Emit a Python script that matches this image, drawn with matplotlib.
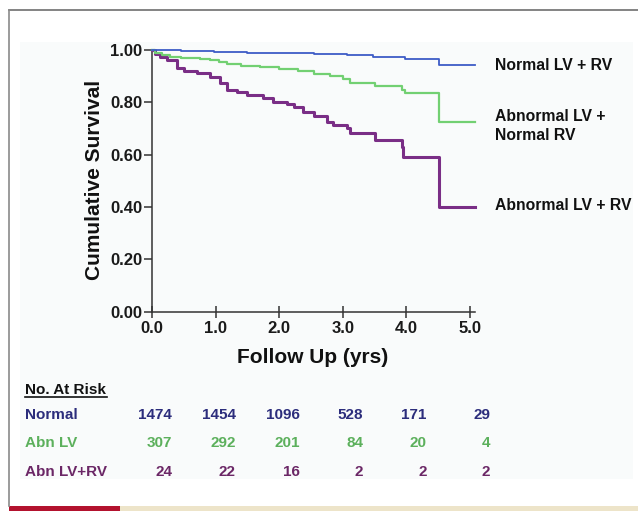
import matplotlib
matplotlib.use("Agg")
import matplotlib.pyplot as plt
import matplotlib.transforms as mtransforms
from matplotlib.patches import Rectangle
from matplotlib.lines import Line2D

# ---- data ----
normal_t = [0.0, 0.45, 0.97, 1.49, 2.0, 2.54, 3.06, 3.48, 3.9, 3.98, 4.52, 5.08]
normal_s = [1.0, 0.997, 0.994, 0.990, 0.987, 0.985, 0.980, 0.975, 0.972, 0.966, 0.943, 0.943]

abnlv_t = [0.0, 0.05, 0.15, 0.29, 0.45, 0.75, 0.92, 1.05, 1.18, 1.4, 1.7, 2.0, 2.3, 2.54,
           2.8, 3.0, 3.11, 3.5, 3.93, 3.98, 4.52, 5.08]
abnlv_s = [1.0, 0.99, 0.98, 0.975, 0.970, 0.966, 0.962, 0.955, 0.946, 0.940, 0.934, 0.926,
           0.920, 0.910, 0.900, 0.890, 0.875, 0.862, 0.847, 0.834, 0.726, 0.726]

abnlvrv_t = [0.0, 0.05, 0.13, 0.24, 0.39, 0.5, 0.71, 0.92, 1.07, 1.18, 1.34, 1.49, 1.75,
             1.91, 2.12, 2.23, 2.38, 2.54, 2.75, 2.85, 3.06, 3.11, 3.5, 3.93, 3.95, 4.52, 5.08]
abnlvrv_s = [1.0, 0.985, 0.975, 0.96, 0.93, 0.921, 0.913, 0.898, 0.873, 0.847, 0.841, 0.828,
             0.815, 0.803, 0.794, 0.783, 0.764, 0.748, 0.726, 0.713, 0.701, 0.682, 0.656,
             0.631, 0.592, 0.401, 0.401]

x_ticks = [0, 1, 2, 3, 4, 5]
y_ticks = [0.0, 0.2, 0.4, 0.6, 0.8, 1.0]

risk_groups = ["Normal", "Abn LV", "Abn LV+RV"]
risk_normal = [1474, 1454, 1096, 528, 171, 29]
risk_abnlv = [307, 292, 201, 84, 20, 4]
risk_abnlvrv = [24, 22, 16, 2, 2, 2]

curve_labels = ["Normal LV + RV", "Abnormal LV +\nNormal RV", "Abnormal LV + RV"]

# ---- style ----
W, H = 638, 511
fig = plt.figure(figsize=(W / 100, H / 100), dpi=100)
fig.patch.set_facecolor("white")
FONT = ["Liberation Sans", "DejaVu Sans"]
plt.rcParams["font.family"] = FONT
plt.rcParams["font.weight"] = "bold"

def fx(px):
    return px / W

def fy(py):
    return 1 - py / H

# panel and frame
fig.add_artist(Rectangle((fx(20), fy(479)), fx(633) - fx(20), fy(42) - fy(479),
                         transform=fig.transFigure, facecolor="#f9fbfb", edgecolor="none", zorder=0))
fig.add_artist(Line2D([fx(9), fx(638)], [fy(10), fy(10)], transform=fig.transFigure,
                      color="#6e6e6e", lw=1.2))
fig.add_artist(Line2D([fx(9), fx(9)], [fy(10), fy(506)], transform=fig.transFigure,
                      color="#8a8a8a", lw=1.2))
fig.add_artist(Rectangle((fx(9), 0), fx(120) - fx(9), fy(506), transform=fig.transFigure,
                         facecolor="#b3122e", edgecolor="none"))
fig.add_artist(Rectangle((fx(120), 0), 1 - fx(120), fy(506), transform=fig.transFigure,
                         facecolor="#ede4c9", edgecolor="none"))

ax = fig.add_axes([fx(152), fy(311.7), fx(475) - fx(152), fy(50) - fy(311.7)])
ax.set_facecolor("none")
ax.set_xlim(0, 5.08)
ax.set_ylim(0, 1.0)
for s in ["top", "right"]:
    ax.spines[s].set_visible(False)
for s in ["left", "bottom"]:
    ax.spines[s].set_color("#333333")
    ax.spines[s].set_linewidth(1.1)

blue, green, purple = "#3d5cc6", "#72d072", "#7a2e86"
ax.plot(normal_t, normal_s, drawstyle="steps-post", color=blue, lw=1.3, clip_on=False, zorder=5)
ax.plot(abnlv_t, abnlv_s, drawstyle="steps-post", color=green, lw=1.6, clip_on=False, zorder=4)
ax.plot(abnlvrv_t, abnlvrv_s, drawstyle="steps-post", color=purple, lw=2.2, clip_on=False, zorder=3)

ax.set_xticks(x_ticks)
ax.set_xticklabels([f"{v:.1f}" for v in x_ticks])
ax.set_yticks(y_ticks)
ax.set_yticklabels([f"{v:.2f}" for v in y_ticks])
ax.tick_params(axis="x", direction="inout", length=8, width=1.1, color="#333333",
               pad=3, labelsize=12, labelcolor="#1a1a1a")
ax.tick_params(axis="y", direction="out", length=6, width=1.1, color="#333333",
               pad=1, labelsize=12, labelcolor="#1a1a1a")
for lab in ax.get_xticklabels() + ax.get_yticklabels():
    lab.set_fontweight("bold")

fig.text(fx(313), fy(357), "Follow Up (yrs)", ha="center", va="center",
         fontsize=15, fontweight="bold", color="#111111")
fig.text(fx(95), fy(180), "Cumulative Survival", ha="center", va="center", rotation=90,
         fontsize=15, fontweight="bold", color="#111111")

# curve labels to the right
label_y_px = [65, 126, 205]
for txt, ypx in zip(curve_labels, label_y_px):
    fig.text(fx(495), fy(ypx), txt, ha="left", va="center", fontsize=11.3,
             fontweight="bold", color="#111111", linespacing=1.3)

# risk table
fig.text(fx(25), fy(390), "No. At Risk", ha="left", va="center", fontsize=11,
         fontweight="bold", color="#111111")
fig.add_artist(Line2D([fx(25), fx(107)], [fy(397), fy(397)], transform=fig.transFigure,
                      color="#111111", lw=1.2))
row_colors = ["#2c2d7c", "#5cb05c", "#6b2766"]
row_y_px = [415, 443, 472]
trans = mtransforms.blended_transform_factory(ax.transData, fig.transFigure)
for name, vals, col, ypx in zip(risk_groups, [risk_normal, risk_abnlv, risk_abnlvrv],
                                row_colors, row_y_px):
    fig.text(fx(25), fy(ypx), name, ha="left", va="center", fontsize=11,
             fontweight="bold", color=col)
    for t, v in zip(x_ticks, vals):
        ax.text(t + 0.32, fy(ypx), str(v), transform=trans, ha="right", va="center",
                fontsize=11, fontweight="bold", color=col, clip_on=False)

fig.savefig("out.png", dpi=100)
